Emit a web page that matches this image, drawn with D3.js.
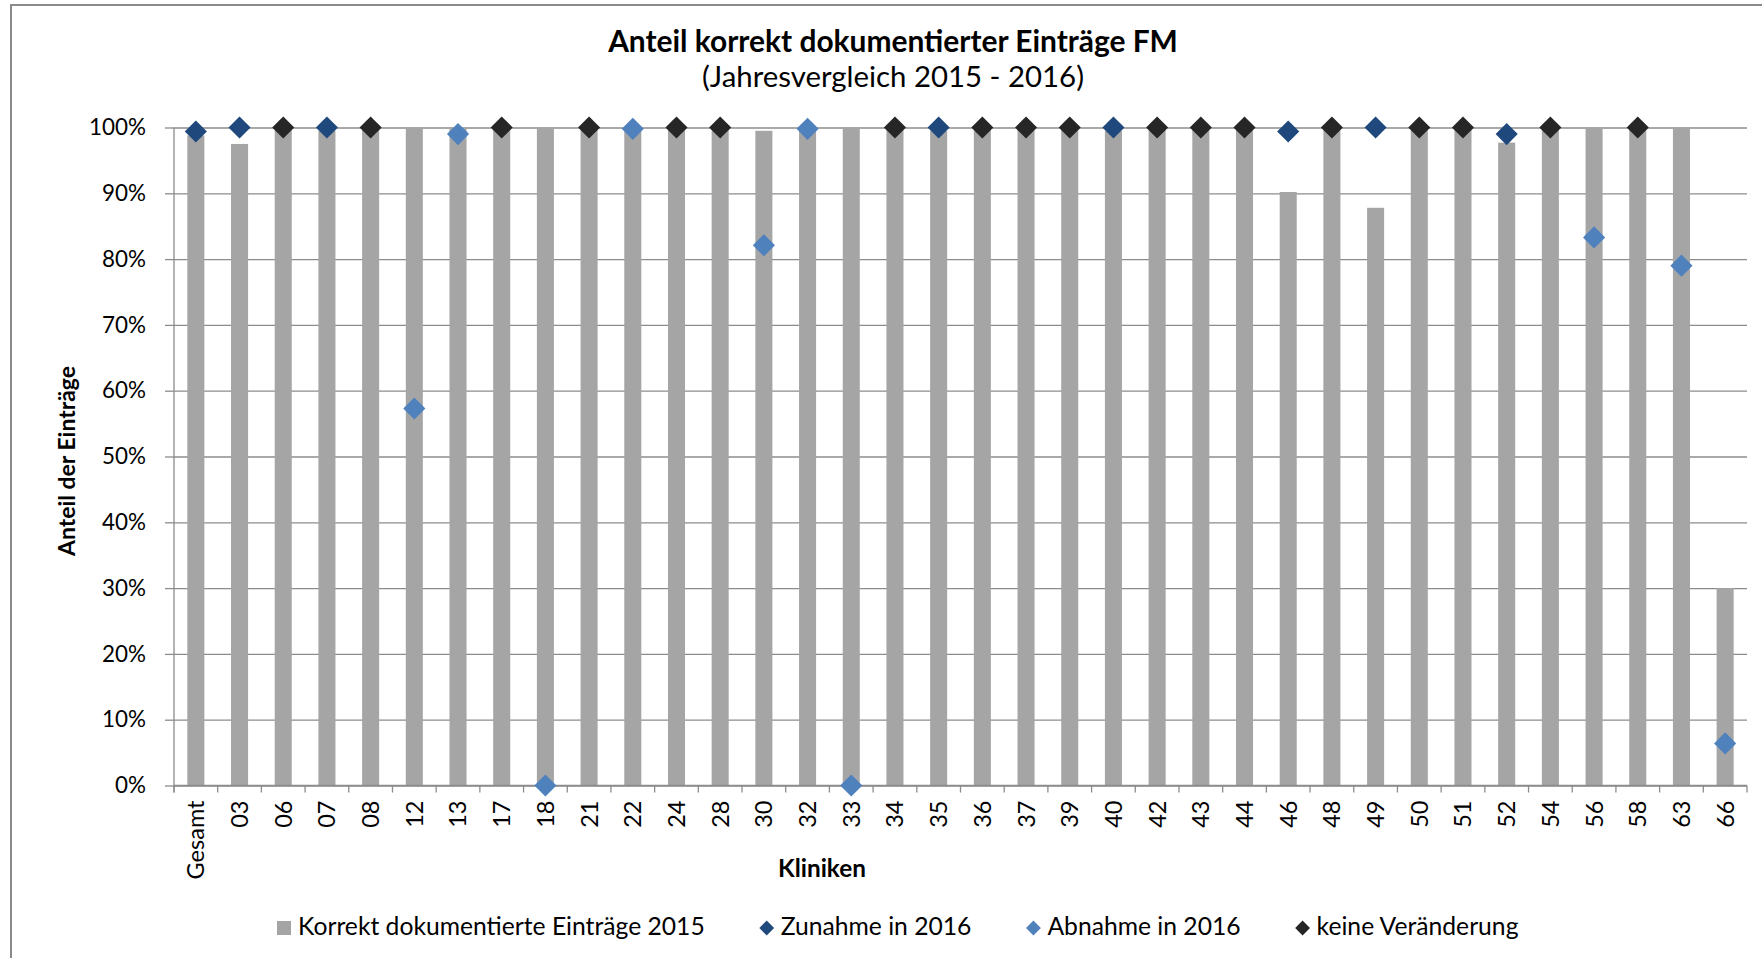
<!DOCTYPE html>
<html><head><meta charset="utf-8">
<script src="https://cdn.jsdelivr.net/npm/d3@7"></script>
<style>
body{margin:0;background:#fff;}
svg{display:block;}
text{font-family:Lato,"Open Sans",sans-serif;fill:#000;}
</style>
</head><body>
<svg id="chart" width="1762" height="958"></svg>
<script>
// ---- Data ----
const categories = ["Gesamt","03","06","07","08","12","13","17","18","21","22","24","28","30","32","33","34","35","36","37","39","40","42","43","44","46","48","49","50","51","52","54","56","58","63","66"];
const korrekt2015 = [0.988,0.975,1,0.995,1,1,1,1,1,1,1,1,1,0.995,1,1,1,0.995,1,1,1,0.995,1,1,1,0.902,1,0.878,1,1,0.977,1,1,1,1,0.30];
const zunahme2016 = [0.994,1,null,1,null,null,null,null,null,null,null,null,null,null,null,null,null,1,null,null,null,1,null,null,null,0.994,null,1,null,null,0.99,null,null,null,null,null];
const abnahme2016 = [null,null,null,null,null,0.573,0.99,null,0,null,0.998,null,null,0.821,0.998,0,null,null,null,null,null,null,null,null,null,null,null,null,null,null,null,null,0.833,null,0.79,0.064];
const keineVeraenderung = [null,null,1,null,1,null,null,1,null,1,null,1,1,null,null,null,1,null,1,1,1,null,1,1,1,null,1,null,1,1,null,1,null,1,null,null];
const yTicks = [0,0.1,0.2,0.3,0.4,0.5,0.6,0.7,0.8,0.9,1.0];
const seriesNames = ["Korrekt dokumentierte Einträge 2015","Zunahme in 2016","Abnahme in 2016","keine Veränderung"];
const titleText = "Anteil korrekt dokumentierter Einträge FM";
const subtitleText = "(Jahresvergleich 2015 - 2016)";
const xTitle = "Kliniken";
const yTitle = "Anteil der Einträge";

// ---- Styles ----
const colBar = "#a5a5a5", colUp = "#1f497d", colDown = "#4f81bd", colSame = "#262626", colGrid = "#8c8c8c";
const svg = d3.select("#chart");

function fitSize(str, weight, target){
  const t = svg.append("text").attr("font-size",100).attr("font-weight",weight).text(str);
  const w = t.node().getComputedTextLength(); t.remove();
  return 100*target/w;
}
const fsTick = fitSize("100%","normal",57);
const fsXTick = fitSize("Gesamt","normal",79);
const fsTitle = fitSize(titleText,"bold",570);
const fsSub = fitSize(subtitleText,"normal",382);
const fsYTitle = fitSize(yTitle,"bold",190);
const fsXTitle = fitSize(xTitle,"bold",88);
const fsLegend = fitSize(seriesNames[0],"normal",407);

// frame
svg.append("rect").attr("x",11).attr("y",5).attr("width",1790).attr("height",1000)
  .attr("fill","none").attr("stroke","#8a8a8a").attr("stroke-width",2);

const pL=174, pR=1747, pT=127.5, pB=785.5;
const x = d3.scaleBand().domain(categories).range([pL,pR]).paddingInner(0.61).paddingOuter(0.305);
const y = d3.scaleLinear().domain([0,1]).range([pB,pT]);

// gridlines
svg.append("g").attr("transform",`translate(${pL},0)`)
  .call(d3.axisLeft(y).tickValues(yTicks).tickSize(-(pR-pL)).tickFormat(""))
  .call(g=>g.select(".domain").remove())
  .call(g=>g.selectAll("line").attr("stroke",colGrid).attr("stroke-width",1.3));

// bars
svg.append("g").selectAll("rect").data(categories).join("rect")
  .attr("x",d=>x(d)).attr("width",x.bandwidth())
  .attr("y",(d,i)=>y(korrekt2015[i])).attr("height",(d,i)=>y(0)-y(korrekt2015[i]))
  .attr("fill",colBar);

// y axis
const ya = svg.append("g").attr("transform",`translate(${pL},0)`)
  .call(d3.axisLeft(y).tickValues(yTicks).tickSize(9).tickPadding(19).tickFormat(d3.format(".0%")));
ya.select(".domain").attr("stroke",colGrid).attr("stroke-width",1.3).attr("d",`M0,${pT}V${pB+7}`);
ya.selectAll("line").attr("stroke",colGrid).attr("stroke-width",1.3);
ya.selectAll("text").attr("font-size",fsTick).attr("font-family","Lato,'Open Sans',sans-serif").attr("fill","#000");

// x axis
const xa = svg.append("g").attr("transform",`translate(0,${pB})`)
  .call(d3.axisBottom(x).tickSize(0).tickPadding(0));
xa.select(".domain").remove();
xa.selectAll("text").attr("font-size",fsXTick).attr("font-family","Lato,'Open Sans',sans-serif").attr("fill","#000")
  .attr("transform","rotate(-90)").attr("text-anchor","end").attr("x",-15).attr("y",0).attr("dy","0.36em");
const bounds = d3.range(categories.length+1).map(i=>pL+i*x.step());
svg.append("line").attr("x1",pL).attr("x2",pR).attr("y1",pB).attr("y2",pB).attr("stroke",colGrid).attr("stroke-width",1.3);
svg.append("g").selectAll("line").data(bounds).join("line")
  .attr("x1",d=>d).attr("x2",d=>d).attr("y1",pB).attr("y2",pB+7)
  .attr("stroke",colGrid).attr("stroke-width",1.3);

// markers
const diamond = d3.symbol().type(d3.symbolSquare).size(245);
function drawSeries(vals,color){
  const pts = categories.map((c,i)=>({c,v:vals[i]})).filter(d=>d.v!==null);
  svg.append("g").selectAll("path").data(pts).join("path")
    .attr("d",diamond)
    .attr("transform",d=>`translate(${x(d.c)+x.bandwidth()/2},${y(d.v)}) rotate(45)`)
    .attr("fill",color);
}
drawSeries(zunahme2016,colUp);
drawSeries(abnahme2016,colDown);
drawSeries(keineVeraenderung,colSame);

// titles
svg.append("text").attr("x",893).attr("y",52).attr("text-anchor","middle")
  .attr("font-weight","bold").attr("font-size",fsTitle).text(titleText);
svg.append("text").attr("x",893).attr("y",87).attr("text-anchor","middle")
  .attr("font-size",fsSub).text(subtitleText);
svg.append("text").attr("x",822).attr("y",877).attr("text-anchor","middle")
  .attr("font-weight","bold").attr("font-size",fsXTitle).text(xTitle);
svg.append("text").attr("transform","translate(75,461) rotate(-90)").attr("text-anchor","middle")
  .attr("font-weight","bold").attr("font-size",fsYTitle).text(yTitle);

// legend
const legColors = [colBar,colUp,colDown,colSame];
const lg = svg.append("g");
let cx = 277;
seriesNames.forEach((name,i)=>{
  const g = lg.append("g");
  if(i===0){
    g.append("rect").attr("x",cx).attr("y",921).attr("width",14).attr("height",14).attr("fill",legColors[i]);
  } else {
    g.append("path").attr("d",d3.symbol().type(d3.symbolSquare).size(110))
      .attr("transform",`translate(${cx+7},928) rotate(45)`).attr("fill",legColors[i]);
  }
  const t = g.append("text").attr("x",cx+21).attr("y",935).attr("font-size",fsLegend).text(name);
  cx = cx + 21 + t.node().getComputedTextLength() + 55;
});
</script>
</body></html>
